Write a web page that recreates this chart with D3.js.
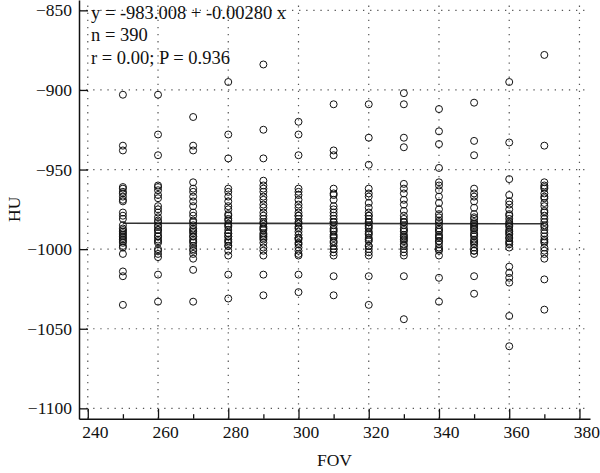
<!DOCTYPE html>
<html>
<head>
<meta charset="utf-8">
<script src="https://cdn.jsdelivr.net/npm/d3@7/dist/d3.min.js"></script>
<style>
  html, body { margin: 0; padding: 0; background: #fff; }
  svg { display: block; }
  text { font-family: "Liberation Serif", "DejaVu Serif", serif; fill: #111; }
</style>
</head>
<body>
<svg id="chart" width="600" height="473"></svg>
<script>
// ---------------- data ----------------
const fovLevels = [250, 260, 270, 280, 290, 300, 310, 320, 330, 340, 350, 360, 370];

const hu250 = [-903, -935, -938, -961, -962, -964, -965, -967, -969, -970, -977, -979, -981, -985, -987, -988, -989, -990, -991, -992, -993, -994, -995, -996, -998, -999, -1003, -1014, -1017, -1035];
const hu260 = [-903, -928, -941, -960, -961, -963, -966, -968, -973, -975, -977, -980, -982, -983, -985, -986, -988, -988, -990, -992, -992, -994, -995, -996, -1000, -1001, -1003, -1005, -1016, -1033];
const hu270 = [-917, -935, -938, -958, -962, -964, -967, -970, -973, -977, -979, -982, -983, -985, -987, -988, -989, -990, -992, -992, -994, -995, -996, -998, -1000, -1001, -1003, -1006, -1013, -1033];
const hu280 = [-895, -928, -943, -962, -964, -967, -970, -973, -975, -978, -979, -981, -982, -984, -985, -986, -988, -990, -990, -992, -992, -994, -995, -996, -998, -998, -1001, -1004, -1016, -1031];
const hu290 = [-884, -925, -943, -957, -960, -962, -964, -967, -969, -972, -974, -977, -979, -981, -983, -984, -986, -987, -988, -990, -991, -992, -993, -994, -996, -999, -1001, -1004, -1016, -1029];
const hu300 = [-920, -928, -941, -962, -964, -966, -969, -972, -974, -977, -979, -979, -981, -983, -984, -986, -987, -989, -991, -993, -993, -994, -996, -997, -999, -1001, -1003, -1004, -1016, -1027];
const hu310 = [-909, -938, -941, -962, -965, -966, -969, -973, -975, -977, -979, -981, -983, -983, -985, -987, -988, -989, -991, -992, -993, -995, -996, -998, -1000, -1000, -1002, -1004, -1017, -1029];
const hu320 = [-909, -930, -947, -962, -965, -967, -971, -974, -977, -979, -979, -981, -983, -983, -985, -986, -987, -989, -990, -991, -993, -994, -995, -998, -998, -1000, -1002, -1004, -1017, -1035];
const hu330 = [-902, -909, -930, -936, -959, -962, -965, -969, -972, -976, -979, -981, -983, -983, -985, -987, -988, -989, -991, -992, -993, -994, -995, -997, -998, -1000, -1002, -1004, -1017, -1044];
const hu340 = [-912, -926, -934, -949, -958, -960, -963, -967, -971, -975, -978, -980, -982, -983, -985, -987, -988, -989, -991, -992, -993, -995, -995, -997, -999, -1000, -1001, -1004, -1018, -1033];
const hu350 = [-908, -932, -941, -962, -965, -967, -970, -974, -978, -980, -981, -983, -984, -985, -986, -987, -988, -990, -991, -992, -994, -995, -996, -997, -999, -1001, -1001, -1003, -1017, -1028];
const hu360 = [-895, -933, -956, -966, -970, -972, -975, -978, -979, -981, -983, -984, -985, -986, -988, -989, -990, -991, -993, -993, -995, -996, -997, -999, -1011, -1015, -1018, -1021, -1042, -1061];
const hu370 = [-878, -935, -958, -960, -961, -962, -965, -967, -968, -971, -973, -976, -977, -979, -981, -983, -985, -986, -988, -990, -992, -994, -995, -996, -999, -1001, -1003, -1006, -1019, -1038];

const huByFov = [hu250, hu260, hu270, hu280, hu290, hu300, hu310, hu320, hu330, hu340, hu350, hu360, hu370];

const regression = [-983.008, -0.00280]; // intercept, slope
const statLines = ["y = -983.008 + -0.00280 x", "n = 390", "r = 0.00; P = 0.936"];

const xTicks = [240, 260, 280, 300, 320, 340, 360, 380];
const xMinorTicks = [250, 270, 290, 310, 330, 350, 370];
const yTicks = [-1100, -1050, -1000, -950, -900, -850];

// ---------------- layout ----------------
const svg = d3.select("#chart");
const mLeft = 79, mRight = 590, mTop = 0, mBottom = 418.7;

const x = d3.scaleLinear().domain([237.5, 383]).range([mLeft, mRight]);
const y = d3.scaleLinear().domain([-1106.5, -843.5]).range([mBottom, mTop]);

const points = [];
fovLevels.forEach((f, i) => huByFov[i].forEach(v => points.push({ fov: f, hu: v })));

// grid (dotted)
const grid = svg.append("g").attr("stroke", "#555").attr("stroke-width", 1.2)
  .attr("stroke-dasharray", "1.3,5.8").attr("fill", "none");
grid.selectAll("line.vx").data(xTicks).join("line").attr("class", "vx")
  .attr("x1", d => x(d)).attr("x2", d => x(d))
  .attr("y1", mBottom).attr("y2", mTop);
grid.selectAll("line.hy").data(yTicks).join("line").attr("class", "hy")
  .attr("y1", d => y(d)).attr("y2", d => y(d))
  .attr("x1", mLeft).attr("x2", mRight);

// regression line
const xr = [250, 370];
svg.append("line")
  .attr("x1", x(xr[0])).attr("x2", x(xr[1]))
  .attr("y1", y(regression[0] + regression[1] * xr[0]))
  .attr("y2", y(regression[0] + regression[1] * xr[1]))
  .attr("stroke", "#333").attr("stroke-width", 1.6);

// points
svg.append("g").selectAll("circle").data(points).join("circle")
  .attr("cx", d => x(d.fov)).attr("cy", d => y(d.hu)).attr("r", 3.5)
  .attr("fill", "none").attr("stroke", "#111").attr("stroke-width", 1);

// axes
const fmt = d => (d < 0 ? "\u2212" : "") + Math.abs(d);

const xAxis = svg.append("g").attr("transform", `translate(0,${mBottom})`)
  .call(d3.axisBottom(x).tickValues(xTicks).tickSize(-10).tickSizeOuter(0).tickPadding(7).tickFormat(d => d));
xAxis.selectAll("text").attr("dx", 7).style("font-size", "17.5px");

const xMinor = svg.append("g").attr("transform", `translate(0,${mBottom})`)
  .call(d3.axisBottom(x).tickValues(xMinorTicks).tickSize(-4.5).tickFormat(""));
xMinor.select(".domain").remove();

const yAxis = svg.append("g").attr("transform", `translate(${mLeft},0)`)
  .call(d3.axisLeft(y).tickValues(yTicks).tickSize(-9).tickSizeOuter(0).tickPadding(7).tickFormat(fmt));
yAxis.selectAll("text").style("font-size", "17.5px");

[xAxis, xMinor, yAxis].forEach(g => {
  g.selectAll("line").attr("stroke", "#111").attr("stroke-width", 1.3);
  g.select(".domain").attr("stroke", "#111").attr("stroke-width", 1.5);
});

// axis titles
svg.append("text").attr("x", (mLeft + mRight) / 2).attr("y", 466)
  .attr("text-anchor", "middle").style("font-size", "17.5px").text("FOV");
svg.append("text").attr("transform", `translate(20,${(mTop + mBottom) / 2}) rotate(-90)`)
  .attr("text-anchor", "middle").style("font-size", "17.5px").text("HU");

// stats annotation
svg.append("g").selectAll("text").data(statLines).join("text")
  .attr("x", 91).attr("y", (d, i) => 18.5 + i * 22.5)
  .style("font-size", "18.5px").text(d => d);
</script>
</body>
</html>
